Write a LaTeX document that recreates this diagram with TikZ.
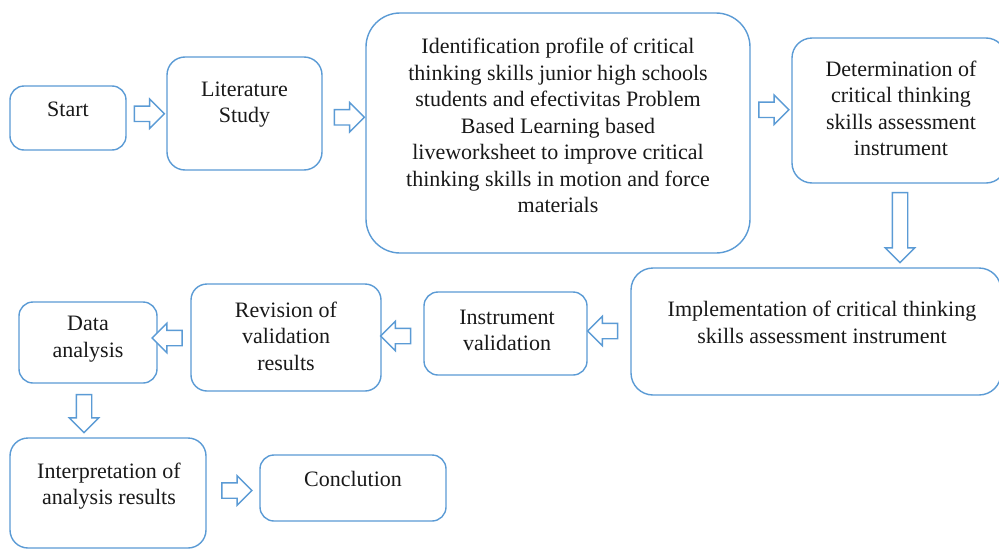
\documentclass[tikz,border=0pt]{standalone}
\usepackage{fontspec}
\setmainfont{Liberation Serif}
\usetikzlibrary{shapes.arrows,calc}
\definecolor{boxblue}{RGB}{91,155,213}
\definecolor{ink}{RGB}{25,25,25}

\begin{document}
\begin{tikzpicture}
					[x=1pt,y=-1pt,
					box/.style={rectangle,rounded corners=14pt,draw=boxblue,line width=1.4pt,fill=white,inner sep=0pt},
					txt/.style={align=center,inner sep=0pt,text=ink,font=\fontsize{22}{26.5}\selectfont},
					blockarrow/.style={single arrow,draw=boxblue,line width=1.4pt,fill=white,inner sep=0pt,
					text height=14pt,text depth=0pt,single arrow head extend=7pt,minimum height=30pt},
					downarrow/.style={blockarrow,shape border rotate=270,text height=0pt,text width=14pt}]
					\clip (0,0) rectangle (999,549);
					\fill[white] (0,0) rectangle (999,549);
					% boxes
					\node[box,minimum width=116pt,minimum height=64pt] (start) at (68,118) {};
					\node[box,minimum width=155pt,minimum height=113pt,rounded corners=18pt] (lit) at (244.5,113.5) {};
					\node[box,minimum width=384pt,minimum height=240pt,rounded corners=34pt] (ident) at (558,133) {};
					\node[box,minimum width=214pt,minimum height=145pt,rounded corners=20pt] (det) at (899,110.5) {};
					\node[box,minimum width=370pt,minimum height=127pt,rounded corners=22pt] (impl) at (816,331.5) {};
					\node[box,minimum width=163pt,minimum height=83pt] (instr) at (505.5,333.5) {};
					\node[box,minimum width=190pt,minimum height=107pt,rounded corners=16pt] (rev) at (286,337.5) {};
					\node[box,minimum width=138pt,minimum height=81pt] (data) at (88,342.5) {};
					\node[box,minimum width=196pt,minimum height=110pt,rounded corners=18pt] (interp) at (108,493) {};
					\node[box,minimum width=186pt,minimum height=66pt] (concl) at (353,488) {};
					% texts
					\node[txt] (startT) at ($(start.north)+(0,24)$) {Start};
					\node[txt] (litT) at ($(lit.north)+(0,48.5)$) {Literature\\Study};
					\node[txt] (identT) at ($(ident.north)+(0,113.5)$) {Identification profile of critical\\thinking skills junior high schools\\students and efectivitas Problem\\Based Learning based\\liveworksheet to improve critical\\thinking skills in motion and force\\materials};
					\node[txt] (detT) at ($(det.north)+(2,71)$) {Determination of\\critical thinking\\skills assessment\\instrument};
					\node[txt] (implT) at ($(impl.north)+(6,55)$) {Implementation of critical thinking\\skills assessment instrument};
					\node[txt] (instrT) at ($(instr.north)+(1.5,39)$) {Instrument\\validation};
					\node[txt] (revT) at ($(rev.north)+(0,53)$) {Revision of\\validation\\results};
					\node[txt] (dataT) at ($(data.north)+(0,38)$) {Data\\analysis};
					\node[txt] (interpT) at ($(interp.north)+(1,49)$) {Interpretation of\\analysis results};
					\node[txt] (conclT) at ($(concl.north)+(0,25)$) {Conclution};
					% arrows
					\node[blockarrow] (a1) at ($(start.east)!0.5!(lit.west)+(-1,-2)$) {};
					\node[blockarrow] (a2) at ($(lit.east)!0.5!(ident.west)+(1.5,-6)$) {};
					\node[blockarrow] (a3) at ($(ident.east)!0.5!(det.west)+(-1,-12)$) {};
					\node[downarrow,minimum height=70pt] (a4) at ($(det.south)+(1,40)$) {};
					\node[blockarrow,shape border rotate=180] (a5) at ($(impl.west)!0.5!(instr.east)+(-2.5,-1.5)$) {};
					\node[blockarrow,shape border rotate=180] (a6) at ($(instr.west)!0.5!(rev.east)+(-3,0.5)$) {};
					\node[blockarrow,shape border rotate=180] (a7) at ($(rev.west)!0.5!(data.east)+(-3,-2)$) {};
					\node[downarrow,minimum height=38pt] (a8) at ($(data.south)+(-4,26)$) {};
					\node[blockarrow] (a9) at ($(interp.east)!0.5!(concl.west)$) {};
\end{tikzpicture}
\end{document}
